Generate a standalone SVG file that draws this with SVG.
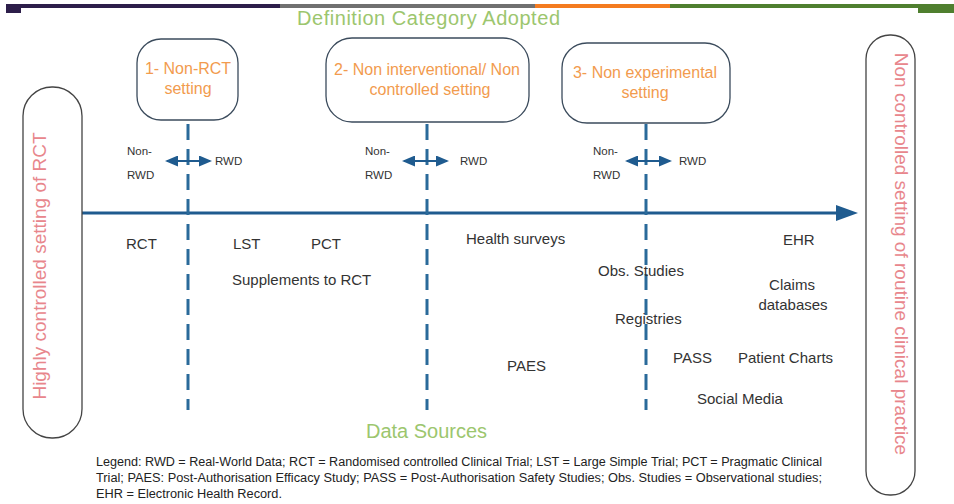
<svg xmlns="http://www.w3.org/2000/svg" width="954" height="504" viewBox="0 0 954 504">
<defs>
<style>
.box{fill:#fff;stroke:#3b4b5c;stroke-width:1.3}
.pill{fill:#fff;stroke:#444;stroke-width:1.3}
.bt{font-family:"Liberation Sans",Arial,sans-serif;font-size:16px;fill:#f29b4e;text-anchor:middle}
.side{font-family:"Liberation Sans",Arial,sans-serif;font-size:19px;fill:#e8868c;text-anchor:middle}
.hd{font-family:"Liberation Sans",Arial,sans-serif;font-size:20px;fill:#9cc66e}
.lb{font-family:"Liberation Sans",Arial,sans-serif;font-size:15px;fill:#333}
.sm{font-family:"Liberation Sans",Arial,sans-serif;font-size:11.5px;fill:#333}
.lg{font-family:"Liberation Sans",Arial,sans-serif;font-size:12px;fill:#222}
.dash{stroke:#2a6a9a;stroke-width:3;stroke-dasharray:16 9;fill:none}
.dbl{stroke:#1f5b8f;stroke-width:2;fill:none;marker-start:url(#sa);marker-end:url(#sa)}
</style>
<marker id="big" markerUnits="userSpaceOnUse" markerWidth="22" markerHeight="16" refX="2" refY="8" orient="auto">
<path d="M0,0 L22,8 L0,16 Z" fill="#1f5b8f"/>
</marker>
<marker id="sa" markerUnits="userSpaceOnUse" markerWidth="13" markerHeight="11" refX="11" refY="5.5" orient="auto-start-reverse">
<path d="M0,0 L13,5.5 L0,11 Z" fill="#1f5b8f"/>
</marker>
</defs>
<rect width="954" height="504" fill="#fff"/>
<g id="topbar">
<rect x="6" y="4" width="274" height="4" fill="#2d1e4a"/>
<rect x="280" y="4" width="255" height="4" fill="#707070"/>
<rect x="535" y="4" width="135" height="4" fill="#f47b20"/>
<rect x="670" y="4" width="284" height="4" fill="#4f7f2f"/>
<rect x="6" y="4" width="15" height="9" fill="#2d1e4a"/>
<rect x="918" y="4" width="36" height="9" fill="#4f7f2f"/>
</g>
<text class="hd" x="297" y="25" textLength="263">Definition Category Adopted</text>
<text class="hd" x="366" y="438" textLength="121">Data Sources</text>
<g id="connectors">
<line x1="78" y1="213" x2="838" y2="213" stroke="#1f5b8f" stroke-width="3" marker-end="url(#big)"/>
<line class="dash" x1="188" y1="124" x2="188" y2="410"/>
<line class="dash" x1="427" y1="124" x2="427" y2="410"/>
<line class="dash" x1="646" y1="124" x2="646" y2="410"/>
<line class="dbl" x1="167" y1="161" x2="210" y2="161"/>
<line class="dbl" x1="404" y1="161" x2="447" y2="161"/>
<line class="dbl" x1="627" y1="161" x2="670" y2="161"/>
</g>
<g id="left-pill">
<rect class="pill" x="23" y="87" width="59" height="351" rx="29"/>
<text class="side" transform="translate(46,266) rotate(-90)">Highly controlled setting of RCT</text>
</g>
<g id="right-pill">
<rect class="pill" x="866" y="35" width="49" height="460" rx="24"/>
<text class="side" transform="translate(895,254) rotate(90)">Non controlled setting of routine clinical practice</text>
</g>
<g id="cat1">
<rect class="box" x="137" y="39" width="101" height="81" rx="24"/>
<text class="bt" x="188" y="74">1- Non-RCT</text>
<text class="bt" x="188" y="94">setting</text>
</g>
<g id="cat2">
<rect class="box" x="326" y="38" width="203" height="84" rx="26"/>
<text class="bt" x="427" y="75">2- Non interventional/ Non</text>
<text class="bt" x="430" y="95">controlled setting</text>
</g>
<g id="cat3">
<rect class="box" x="562" y="43" width="168" height="80" rx="25"/>
<text class="bt" x="645" y="78">3- Non experimental</text>
<text class="bt" x="645" y="98">setting</text>
</g>
<g id="rwd-labels">
<text class="sm" x="127" y="155">Non-</text>
<text class="sm" x="127" y="179">RWD</text>
<text class="sm" x="215" y="165">RWD</text>
<text class="sm" x="365" y="155">Non-</text>
<text class="sm" x="365" y="179">RWD</text>
<text class="sm" x="460" y="165">RWD</text>
<text class="sm" x="593" y="155">Non-</text>
<text class="sm" x="593" y="179">RWD</text>
<text class="sm" x="679" y="165">RWD</text>
</g>
<g id="sources">
<text class="lb" x="126" y="249">RCT</text>
<text class="lb" x="233" y="249">LST</text>
<text class="lb" x="311" y="249">PCT</text>
<text class="lb" x="232" y="285">Supplements to RCT</text>
<text class="lb" x="466" y="244">Health surveys</text>
<text class="lb" x="783" y="245">EHR</text>
<text class="lb" x="598" y="276">Obs. Studies</text>
<text class="lb" x="792" y="290" text-anchor="middle">Claims</text>
<text class="lb" x="793" y="310" text-anchor="middle">databases</text>
<text class="lb" x="615" y="324">Registries</text>
<text class="lb" x="507" y="371">PAES</text>
<text class="lb" x="673" y="363">PASS</text>
<text class="lb" x="738" y="363">Patient Charts</text>
<text class="lb" x="697" y="404">Social Media</text>
</g>
<g id="legend">
<text class="lg" x="96" y="466" textLength="726" lengthAdjust="spacingAndGlyphs">Legend: RWD = Real-World Data; RCT = Randomised controlled Clinical Trial; LST = Large Simple Trial; PCT = Pragmatic Clinical</text>
<text class="lg" x="96" y="482" textLength="726" lengthAdjust="spacingAndGlyphs">Trial; PAES: Post-Authorisation Efficacy Study; PASS = Post-Authorisation Safety Studies; Obs. Studies = Observational studies;</text>
<text class="lg" x="96" y="498" textLength="186" lengthAdjust="spacingAndGlyphs">EHR = Electronic Health Record.</text>
</g>
</svg>
